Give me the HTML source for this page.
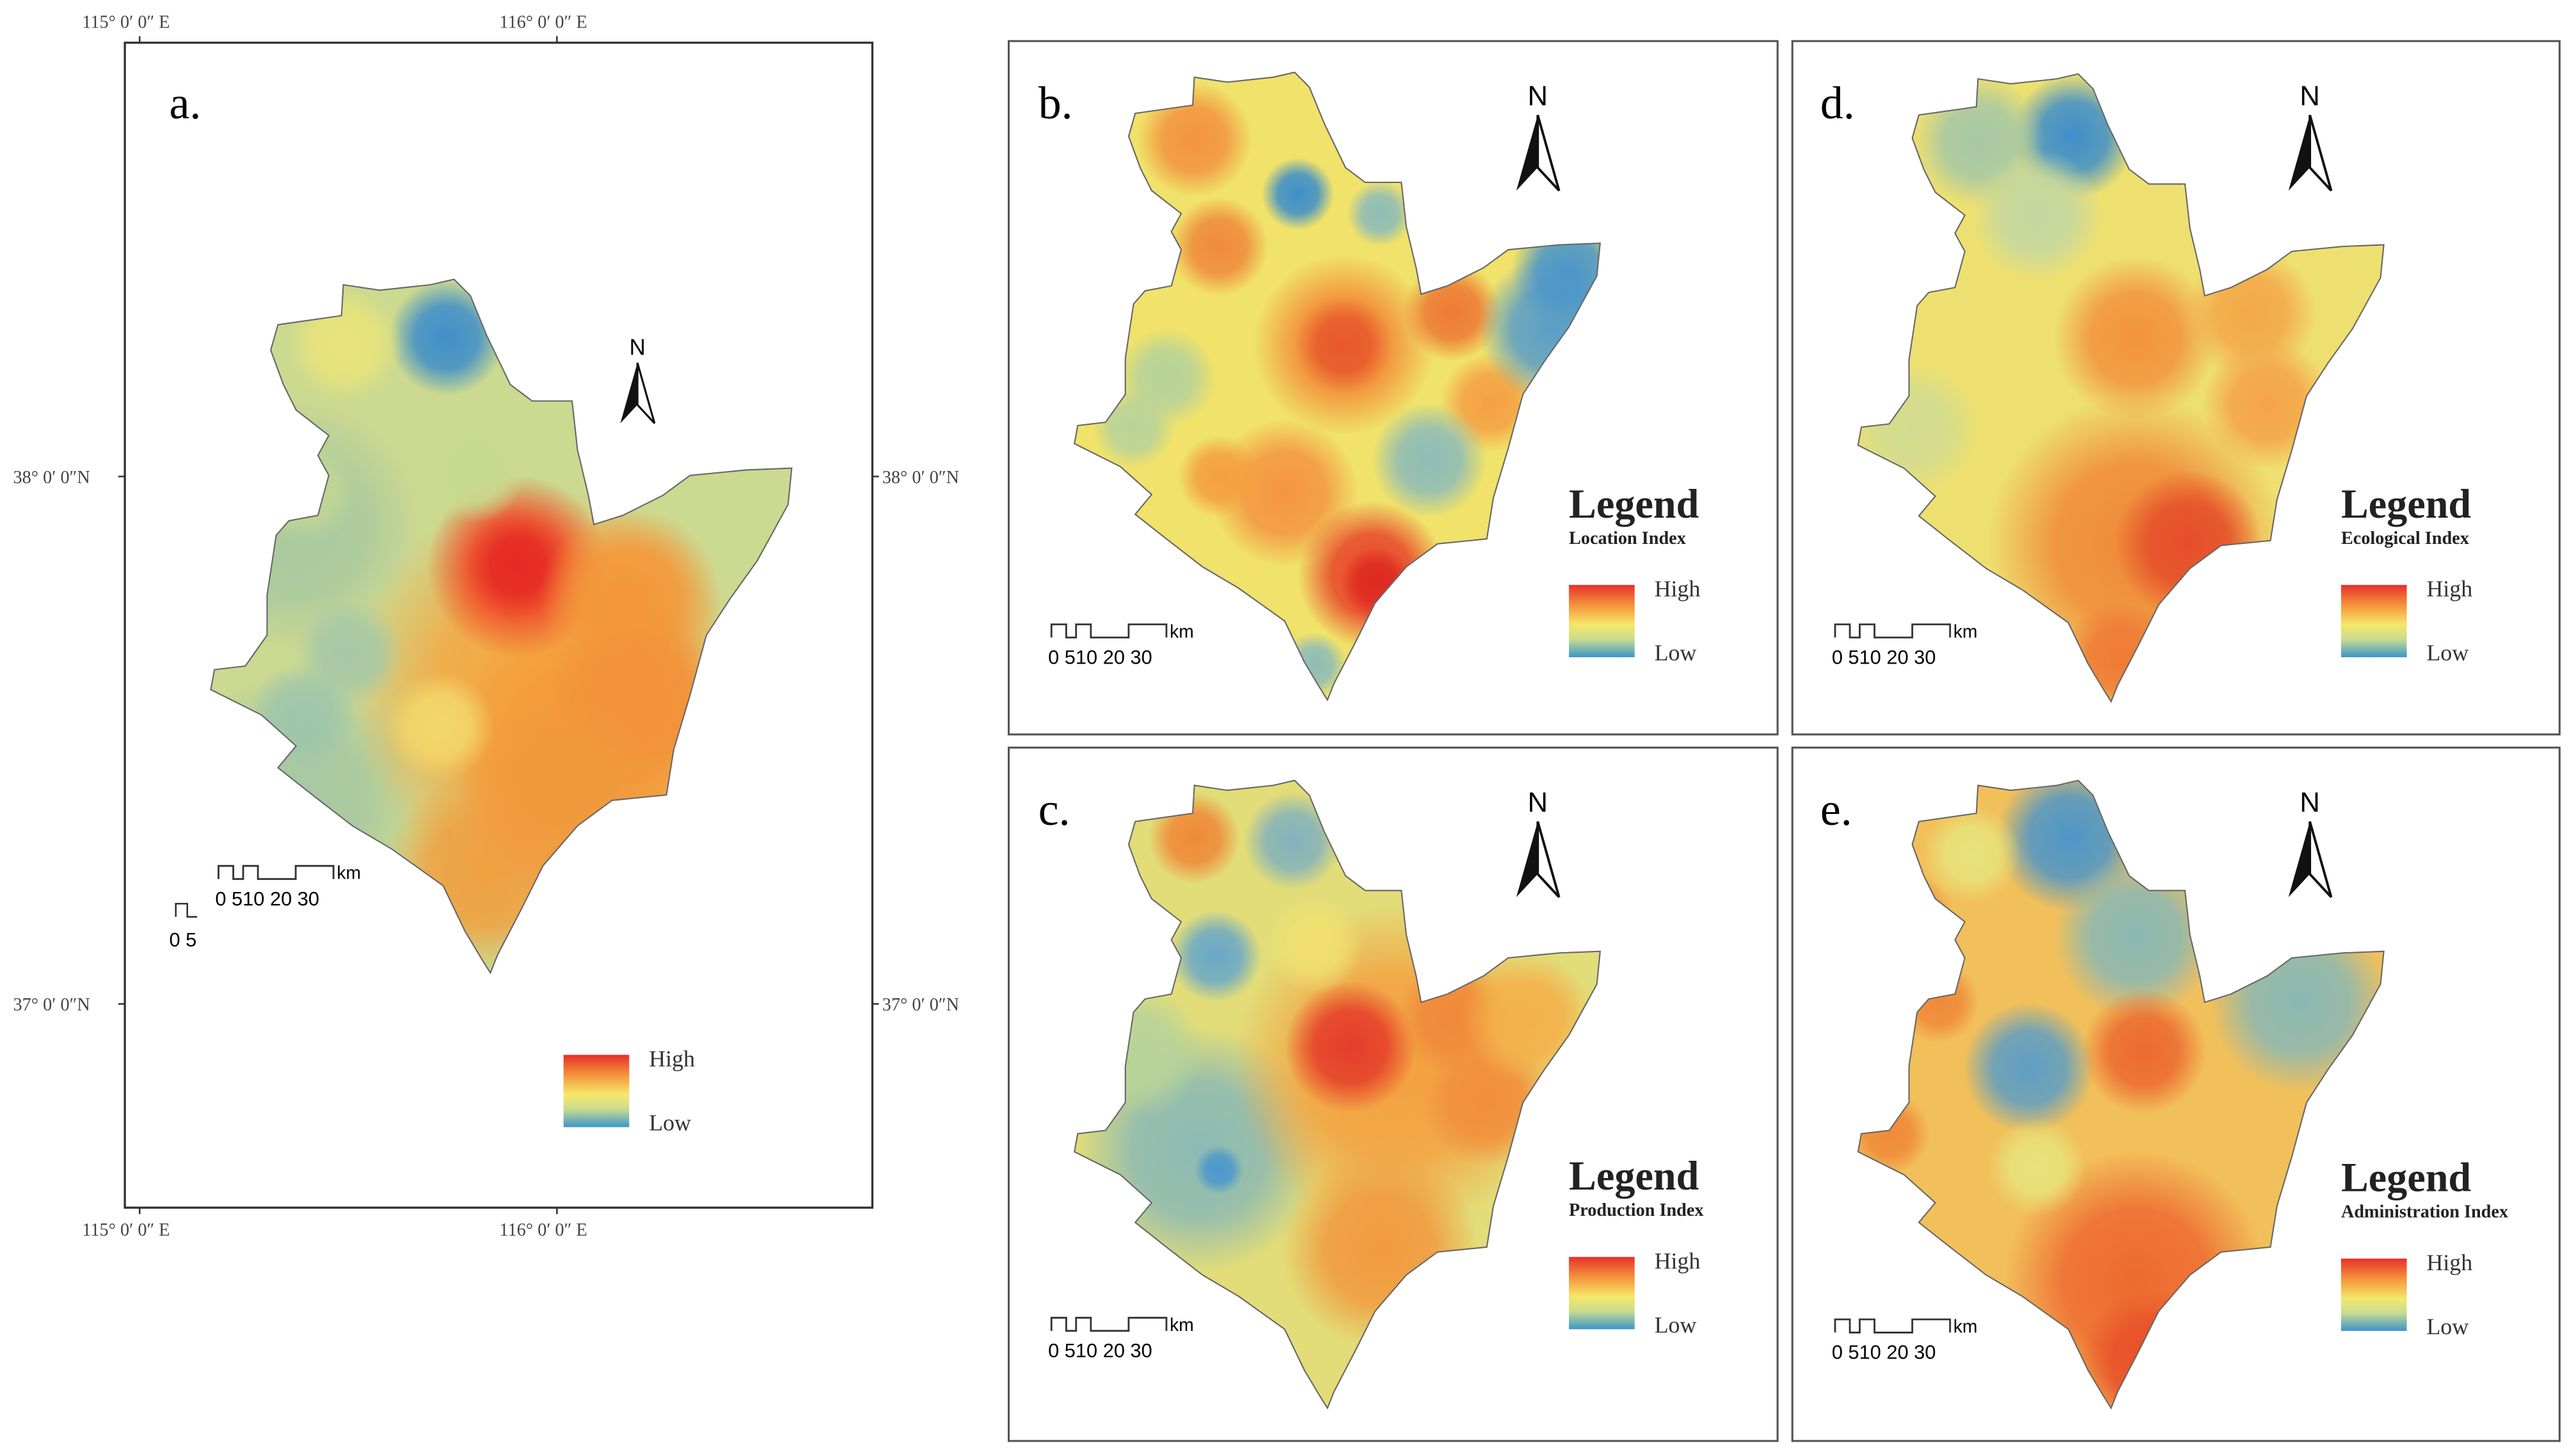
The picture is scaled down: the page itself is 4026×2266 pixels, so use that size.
<!DOCTYPE html>
<html><head><meta charset="utf-8"><title>Index maps</title>
<style>html,body{margin:0;padding:0;background:#fff}svg{display:block}</style></head>
<body>
<svg id="fig" xmlns="http://www.w3.org/2000/svg" width="4026" height="2266" viewBox="0 0 1568 882.5" preserveAspectRatio="none" font-family="'Liberation Serif', serif">
<defs id="defs"></defs>
<rect x="0" y="0" width="1568" height="882.5" fill="#fff"/>

<g>
<rect x="76" y="26" width="455" height="709" fill="none" stroke="#333" stroke-width="1.3"/>
<g font-size="11" fill="#444">
<text x="50" y="17">115° 0′ 0″ E</text><text x="304" y="17">116° 0′ 0″ E</text>
<text x="50" y="752">115° 0′ 0″ E</text><text x="304" y="752">116° 0′ 0″ E</text>
<text x="8" y="294">38° 0′ 0″N</text><text x="8" y="615">37° 0′ 0″N</text>
<text x="537" y="294">38° 0′ 0″N</text><text x="537" y="615">37° 0′ 0″N</text>
<path d="M85 26v-4M339 26v-4M85 735v4M339 735v4M76 290h-4M76 611h-4M531 290h4M531 611h4" stroke="#333" stroke-width="1"/>
</g>
<text x="103" y="72" font-size="28">a.</text>
</g>

<rect x="614" y="25" width="468" height="422" fill="none" stroke="#555" stroke-width="1.2"/>
<rect x="1091" y="25" width="467" height="422" fill="none" stroke="#555" stroke-width="1.2"/>
<rect x="614" y="455" width="468" height="422" fill="none" stroke="#555" stroke-width="1.2"/>
<rect x="1091" y="455" width="467" height="422" fill="none" stroke="#555" stroke-width="1.2"/>
<text x="632" y="72" font-size="28">b.</text>
<text x="1108" y="72" font-size="28">d.</text>
<text x="632" y="502" font-size="28">c.</text>
<text x="1108" y="502" font-size="28">e.</text>

<g id="maps"></g>
<g id="decor"></g>
</svg>
<script>
const outline = [[691,69],[726,64],[727,47],[747,50],[775,47],[788,44],[797,53],[806,75],[819,102],[831,111],[853,111],[856,138],[862,163],[865,179],[881,174],[903,163],[918,152],[949,149],[974,148],[972,168],[955,199],[940,220],[927,240],[918,273],[909,303],[905,328],[875,331],[856,345],[837,367],[825,391],[812,416],[808,426],[803,418],[794,403],[782,378],[754,358],[732,345],[710,328],[691,313],[701,301],[682,284],[654,270],[656,259],[673,257],[685,240],[685,218],[690,185],[697,177],[713,174],[719,152],[713,141],[719,130],[701,116],[694,102],[687,83]];
const panelNames = ['a','b','c','d','e'];
const panelTx = [[125,170,1.105],[651,44,1],[651,475,1],[1128,45,1],[1128,475,1]];
const panelBase = ['#ccd990','#f0e26a','#e2dd78','#eee070','#f2c05a'];
const blobsA = [[700,180,70,'#a9c9a0'],[700,330,70,'#a6c8a2'],[784,76,32,'#3f8fca'],[728,80,32,'#e9e47a'],[840,270,110,'#f6a640'],[865,300,80,'#f39a3a'],[823,202,50,'#ef4a2a'],[823,202,28,'#e52a25'],[885,220,50,'#f4973a'],[890,275,50,'#f3913a'],[805,370,55,'#f0a040'],[845,330,55,'#f09a3e'],[780,290,30,'#f2d86a'],[800,150,28,'#c8da90'],[705,160,30,'#c3d694'],[730,250,30,'#a6c8a6'],[705,285,30,'#9fc6ab']];
const blobsB = [[727,85,35,'#f29440'],[742,150,30,'#f08a3c'],[818,210,55,'#f2903a'],[818,210,30,'#e8582c'],[884,190,30,'#ee7a34'],[907,245,30,'#f5a044'],[782,300,45,'#f49640'],[742,290,25,'#f4a040'],[835,350,45,'#e8462a'],[838,355,22,'#de2a22'],[790,118,22,'#3c8fcb'],[945,200,45,'#5a9ec8'],[955,165,35,'#4b96ca'],[700,385,35,'#6aa8c4'],[680,345,25,'#6aa8c4'],[870,280,35,'#8ebcb8'],[710,230,30,'#b6d39a'],[800,405,20,'#8fbcb8'],[690,260,25,'#b8d39a'],[840,130,20,'#8ebcb8']];
const blobsC = [[727,510,28,'#ef8a38'],[787,512,30,'#84b2bc'],[740,582,28,'#6aa8c8'],[730,700,75,'#8cbab4'],[742,712,15,'#4d98cc'],[850,650,100,'#f4a040'],[822,637,40,'#e53d2a'],[885,620,35,'#f0893a'],[905,670,40,'#f28e3a'],[840,760,60,'#f19a3e'],[930,620,40,'#f4b04a'],[693,640,40,'#b7d39a'],[800,575,30,'#f0e070']];
const blobsD = [[1262,82,38,'#3f8fca'],[1205,85,40,'#a6c8a6'],[1240,130,40,'#c4d8a0'],[1300,330,90,'#f08a38'],[1332,330,45,'#e54e2a'],[1300,205,50,'#f2943c'],[1370,190,40,'#f4a848'],[1380,245,40,'#f5a448'],[1165,260,40,'#d2dc90'],[1290,400,35,'#ef7a34']];
const blobsE = [[1260,510,45,'#4e96c8'],[1300,570,50,'#8ab8b4'],[1235,650,40,'#5e9ec4'],[1305,640,38,'#ec6a30'],[1400,610,55,'#8ab8b4'],[1300,780,80,'#ee6a30'],[1310,830,45,'#e8502a'],[1160,560,30,'#ef8a3a'],[1180,610,25,'#f08a3a'],[1150,690,25,'#f08a3a'],[1240,710,30,'#e8e27a'],[1200,520,30,'#e8e27a']];
const allBlobs = [blobsA,blobsB,blobsC,blobsD,blobsE];
const legendTitles = ['', 'Location Index', 'Production Index', 'Ecological Index', 'Administration Index'];

const NS = 'http://www.w3.org/2000/svg';
const defs = document.getElementById('defs');
const maps = document.getElementById('maps');
const decor = document.getElementById('decor');
function mk(tag, attrs, parent){const e=document.createElementNS(NS,tag);for(const k in attrs)e.setAttribute(k,attrs[k]);if(parent)parent.appendChild(e);return e;}
const gradCache = {};
function grad(color){
  if(gradCache[color]) return gradCache[color];
  const id='g'+color.slice(1);
  const g=mk('radialGradient',{id:id},defs);
  mk('stop',{offset:'0','stop-color':color,'stop-opacity':'1'},g);
  mk('stop',{offset:'0.55','stop-color':color,'stop-opacity':'0.85'},g);
  mk('stop',{offset:'1','stop-color':color,'stop-opacity':'0'},g);
  gradCache[color]='url(#'+id+')'; return gradCache[color];
}
const lg = mk('linearGradient',{id:'legendGrad',x1:'0',y1:'0',x2:'0',y2:'1'},defs);
[['0','#e8302a'],['0.3','#f59a3e'],['0.55','#f5e86a'],['0.75','#c9dc90'],['1','#3d95cc']].forEach(s=>mk('stop',{offset:s[0],'stop-color':s[1]},lg));
const ptsStr = outline.map(p=>p.join(',')).join(' ');

panelNames.forEach((nm,i)=>{
  const [tx,ty,s]=panelTx[i];
  const g = mk('g',{},maps);
  
  
  const dx = (i===3||i===4)?477:0, dy=(i===2||i===4)?431:0;
  const trans = 'translate('+tx+','+ty+') scale('+s+') translate(-651,-44)';
  const cp = mk('clipPath',{id:'clip'+nm},defs);
  mk('polygon',{points:ptsStr,transform:trans},cp);
  const inner = mk('g',{'clip-path':'url(#clip'+nm+')'},g);
  const ig = mk('g',{transform:trans},inner);
  mk('polygon',{points:ptsStr,fill:panelBase[i]},ig);
  allBlobs[i].forEach(b=>{
    const c = mk('circle',{cx:b[0]-dx,cy:b[1]-dy,r:b[2],fill:grad(b[3])},ig);
    
    
  });
  const ol = mk('polygon',{points:ptsStr,fill:'none',stroke:'#666','stroke-width':0.8/s,transform:trans},g);
  
  
});

function north(x,y,sc){
  const g=mk('g',{transform:'translate('+x+','+y+') scale('+sc+')'},decor);
  
  
  const t=mk('text',{x:0,y:0,'font-size':17,'text-anchor':'middle','font-family':"'Liberation Sans', sans-serif"},g); t.textContent='N';
  mk('path',{d:'M0 6 L-13 52 L0 38 Z',fill:'#111'},g);
  mk('path',{d:'M0 6 L13 52 L0 38 Z',fill:'#fff',stroke:'#111','stroke-width':1.5},g);
}
function scalebar(x,y){
  const g=mk('g',{},decor);
  
  
  mk('path',{d:'M'+x+' '+(y+8)+'v-8h9v8h6v-8h9v8h23v-8h23v8',fill:'none',stroke:'#333','stroke-width':1.1},g);
  const k=mk('text',{x:x+72,y:y+8,'font-size':11,'font-family':"'Liberation Sans', sans-serif"},g);k.textContent='km';
  const l=mk('text',{x:x-2,y:y+24,'font-size':12,'font-family':"'Liberation Sans', sans-serif"},g);l.textContent='0 510  20  30';
}
function legend(x,y,title,big){
  const g=mk('g',{},decor);
  
  
  let by=y;
  if(big){
    const t=mk('text',{x:x,y:y,'font-size':25,'font-weight':'bold',fill:'#222'},g);t.textContent='Legend';
    const s=mk('text',{x:x,y:y+16,'font-size':11,'font-weight':'bold',fill:'#222'},g);s.textContent=title;
    by=y+41;
  }
  mk('rect',{x:x,y:by,width:40,height:44,fill:'url(#legendGrad)'},g);
  const h=mk('text',{x:x+52,y:by+7,'font-size':14,fill:'#333'},g);h.textContent='High';
  const lo=mk('text',{x:x+52,y:by+46,'font-size':14,fill:'#333'},g);lo.textContent='Low';
}
north(388,216,0.8);
north(936,64,1);north(1406,64,1);north(936,494,1);north(1406,494,1);
scalebar(133,527);
const mini=mk('g',{},decor);


mk('path',{d:'M107 558v-8h7v8h6',fill:'none',stroke:'#333','stroke-width':1},mini);
const mt=mk('text',{x:103,y:576,'font-size':12,'font-family':"'Liberation Sans', sans-serif"},mini);mt.textContent='0 5';
scalebar(640,380);scalebar(1117,380);scalebar(640,802);scalebar(1117,803);
legend(343,642,'',false);
legend(955,315,legendTitles[1],true);
legend(1425,315,legendTitles[3],true);
legend(955,724,legendTitles[2],true);
legend(1425,725,legendTitles[4],true);
</script>
</body></html>
